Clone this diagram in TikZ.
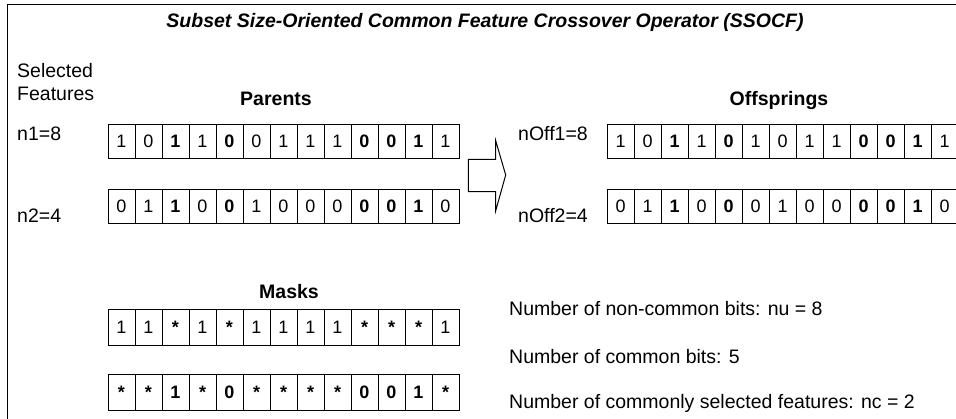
\documentclass[tikz,border=0pt]{standalone}
\usepackage{fontspec}
\setmainfont{Liberation Sans}
\usetikzlibrary{calc}
% one row of bit cells: \bitrow[name](left x,centre y){values}
\def\bitrow[#1](#2,#3)#4{\foreach \v [count=\i] in {#4} \node[bit] (#1\i) at ({#2+27*\i-13.5},#3) {\v};}
\def\B#1{\textbf{#1}}

\begin{document}
\begin{tikzpicture}[x=1pt, y=-1pt,
	bit/.style={draw, line width=1pt, minimum width=27, minimum height=34, inner sep=0,
		text height=13, text depth=0, font=\fontsize{18}{18}\selectfont},
	lbl/.style={inner sep=0, font=\fontsize{19.5}{23}\selectfont},
	hdr/.style={inner sep=0, font=\fontsize{19.5}{23}\selectfont\bfseries}]
	%%%%% START %%%%%
	\clip (0,0) rectangle (956,418);
	
	\draw[line width=1.5pt] (7.3,430) -- (7.3,4.5) -- (970,4.5);
	\node[hdr, anchor=base] (title) at (485,27) {\itshape Subset Size-Oriented Common Feature Crossover Operator (SSOCF)};
	
	\node[lbl, anchor=base west] (sel) at (17,77) {Selected};
	\node[lbl, anchor=base west] (feat) at (17,100) {Features};
	\node[hdr, anchor=base] (parents) at (276,105) {Parents};
	\node[hdr, anchor=base] (offspr) at (779,105) {Offsprings};
	
	% parents
	\node[lbl, anchor=base west] (n1) at (17,140) {n1=8};
	\bitrow[pa](108,141){1,0,\B1,1,\B0,0,1,1,1,\B0,\B0,\B1,1}
	\node[lbl, anchor=base west] (n2) at (17,222) {n2=4};
	\bitrow[pb](108,206){0,1,\B1,0,\B0,1,0,0,0,\B0,\B0,\B1,0}
	
	\draw[line width=1pt] (468.3,159.3) -- (495.7,159.3) -- (495.7,140.7) -- (505.7,175)
		-- (495.7,210.7) -- (495.7,191.7) -- (468.3,191.7) -- cycle;
	
	% offsprings
	\node[lbl, anchor=base west] (no1) at (518,140) {nOff1=8};
	\bitrow[oa](607,141){1,0,\B1,1,\B0,1,0,1,1,\B0,\B0,\B1,1}
	\node[lbl, anchor=base west] (no2) at (518,222) {nOff2=4};
	\bitrow[ob](607,206){0,1,\B1,0,\B0,0,1,0,0,\B0,\B0,\B1,0}
	
	% masks
	\node[hdr, anchor=base] (masks) at (289,298) {Masks};
	\begin{scope}[bit/.append style={minimum height=36}]
		\bitrow[ma](108,327){1,1,\B*,1,\B*,1,1,1,1,\B*,\B*,\B*,1}
		\bitrow[mb](108,392){\B*,\B*,\B1,\B*,\B0,\B*,\B*,\B*,\B*,\B0,\B0,\B1,\B*}
	\end{scope}
	
	\node[lbl, anchor=base west] (nu) at (509,315.7) {Number of non-common bits: nu = 8};
	\node[lbl, anchor=base west] (ncb) at (509,363) {Number of common bits: 5};
	\node[lbl, anchor=base west] (nc) at (509,408) {Number of commonly selected features: nc = 2};
	
	%%%%% END %%%%%
\end{tikzpicture}
\end{document}
